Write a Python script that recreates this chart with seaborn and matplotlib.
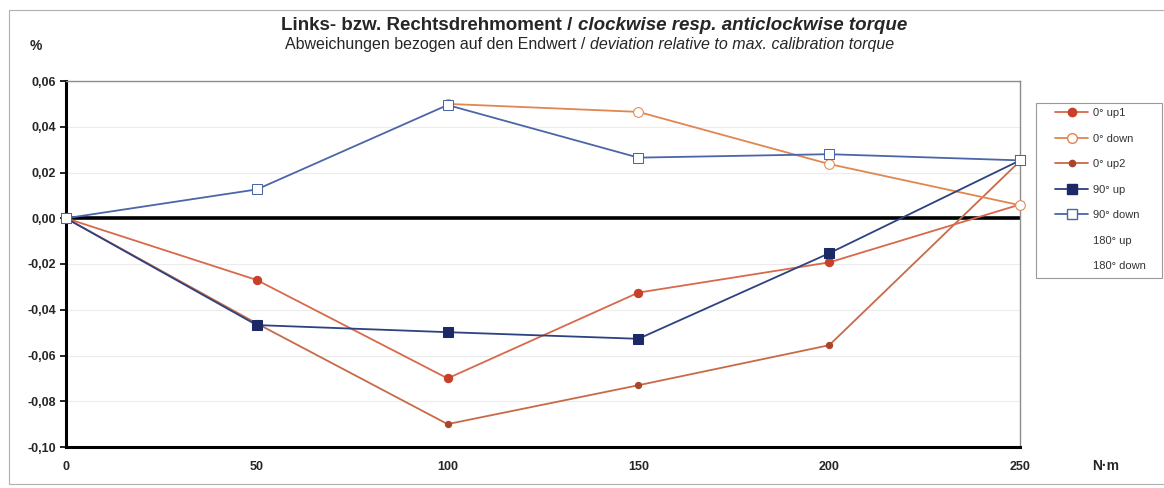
import matplotlib
matplotlib.use("Agg")
import matplotlib.pyplot as plt
import matplotlib.ticker as mticker
from matplotlib.lines import Line2D
from matplotlib.patches import Rectangle
import numpy as np
import pandas as pd
import seaborn as sns

# torque steps in N·m
torque = [0, 50, 100, 150, 200, 250]

# deviation in % of max. calibration torque
up1_0 = [0.0, -0.027, -0.070, -0.0325, -0.0193, 0.006]
down_0 = [np.nan, np.nan, 0.050, 0.0465, 0.0237, 0.0057]
up2_0 = [0.0, -0.046, -0.090, -0.073, -0.0555, 0.025]
up_90 = [0.0, -0.0467, -0.0498, -0.0527, -0.0153, 0.0253]
down_90 = [0.0, 0.0126, 0.0495, 0.0265, 0.0280, 0.0253]

series_names = ["0° up1", "0° down", "0° up2", "90° up", "90° down"]
empty_names = ["180° up", "180° down"]
y_ticks = [0.06, 0.04, 0.02, 0.0, -0.02, -0.04, -0.06, -0.08, -0.10]
x_ticks = [0, 50, 100, 150, 200, 250]

styles = {
    "0° up2": dict(color="#c86a48", marker="o", markersize=4.5,
                   markerfacecolor="#a9452a", markeredgecolor="#a9452a"),
    "0° up1": dict(color="#d8694a", marker="o", markersize=6,
                   markerfacecolor="#c8402a", markeredgecolor="#c8402a"),
    "0° down": dict(color="#e08650", marker="o", markersize=7,
                    markerfacecolor="white", markeredgecolor="#e08650"),
    "90° up": dict(color="#2e4180", marker="s", markersize=6.5,
                   markerfacecolor="#1b2a66", markeredgecolor="#1b2a66"),
    "90° down": dict(color="#4b66a8", marker="s", markersize=7.5,
                     markerfacecolor="white", markeredgecolor="#4b66a8"),
}
values = {"0° up1": up1_0, "0° down": down_0, "0° up2": up2_0,
          "90° up": up_90, "90° down": down_90}
draw_order = ["0° up2", "0° up1", "0° down", "90° up", "90° down"]

sns.set_style("white")
plt.rcParams["font.family"] = ["Liberation Sans", "DejaVu Sans"]

W, H = 1164, 488
fig = plt.figure(figsize=(W / 100, H / 100), dpi=100)
ax = fig.add_axes([66 / W, 1 - 447 / H, (1020 - 66) / W, (447 - 81) / H])

ax.grid(axis="y", color="#ececec", linewidth=0.8)
ax.axhline(0, color="black", linewidth=2.6, zorder=2)

for name in draw_order:
    df = pd.DataFrame({"torque": torque, "dev": values[name]})
    sns.lineplot(data=df, x="torque", y="dev", ax=ax, linewidth=1.3,
                 clip_on=False, zorder=3, legend=False, **styles[name])

ax.set_xlim(0, 250)
ax.set_ylim(-0.10, 0.06)
ax.set_xticks(x_ticks)
ax.set_yticks(y_ticks)
ax.yaxis.set_major_formatter(
    mticker.FuncFormatter(lambda v, _: f"{v:.2f}".replace(".", ",").replace("-0,00", "0,00")))
ax.tick_params(axis="x", length=0, pad=10, labelsize=9)
ax.tick_params(axis="y", length=4, width=1.2, direction="out", color="black",
               left=True, pad=3, labelsize=9)
for lab in ax.get_xticklabels() + ax.get_yticklabels():
    lab.set_fontweight("bold")
ax.set_xlabel("")
ax.set_ylabel("")

for side in ["left", "bottom"]:
    ax.spines[side].set_color("black")
    ax.spines[side].set_linewidth(2.2)
for side in ["top", "right"]:
    ax.spines[side].set_color("#8c8c8c")
    ax.spines[side].set_linewidth(1.0)

# legend (frame drawn separately to get the wider left margin)
handles = []
for name in series_names:
    handles.append(Line2D([], [], linewidth=1.3, label=name, **styles[name]))
for name in empty_names:
    handles.append(Line2D([], [], linestyle="none", label=name))
leg = fig.legend(handles=handles, loc="upper left",
                 bbox_to_anchor=(1055 / W, 1 - 108 / H),
                 frameon=False, fontsize=8, labelspacing=1.4,
                 handlelength=3.0, handletextpad=0.45, borderpad=0,
                 borderaxespad=0)
for t in leg.get_texts():
    t.set_color("#333333")
fig.patches.append(Rectangle((1036 / W, 1 - 278 / H), 126 / W, 175 / H,
                             transform=fig.transFigure, fill=False,
                             edgecolor="#9a9a9a", linewidth=0.8))

# axis captions
fig.text(36 / W, 1 - 46 / H, "%", fontsize=10, fontweight="bold",
         ha="center", va="center")
fig.text(1106 / W, 1 - 466 / H, "N·m", fontsize=10, fontweight="bold",
         ha="center", va="center")


def centered_parts(y, parts, size, weight, xc):
    renderer = fig.canvas.get_renderer()
    texts = [fig.text(0, y, s, fontsize=size, fontweight=weight, fontstyle=st,
                      va="center", ha="left") for s, st in parts]
    widths = [t.get_window_extent(renderer).width / fig.bbox.width for t in texts]
    x = xc / W - sum(widths) / 2
    for t, w in zip(texts, widths):
        t.set_x(x)
        x += w


centered_parts(1 - 25 / H, [("Links- bzw. Rechtsdrehmoment / ", "normal"),
                            ("clockwise resp. anticlockwise torque", "italic")],
               13.5, "bold", 594)
centered_parts(1 - 45 / H, [("Abweichungen bezogen auf den Endwert / ", "normal"),
                            ("deviation relative to max. calibration torque", "italic")],
               11.5, "normal", 590)

# outer chart frame
fig.patches.append(Rectangle((9 / W, 4 / H), 1.0, 1 - 14 / H,
                             transform=fig.transFigure, fill=False,
                             edgecolor="#b0b0b0", linewidth=0.8))

fig.savefig("out.png", dpi=100)
